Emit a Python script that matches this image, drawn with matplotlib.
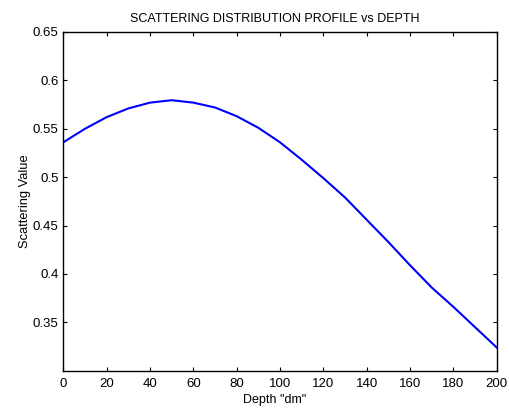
import matplotlib
matplotlib.use("Agg")
import matplotlib.pyplot as plt

depth = [0, 10, 20, 30, 40, 50, 60, 70, 80, 90, 100, 110, 120, 130, 140, 150, 160, 170, 180, 190, 200]
scattering = [0.536, 0.550, 0.562, 0.571, 0.577, 0.5795, 0.577, 0.572, 0.563, 0.551, 0.536,
              0.518, 0.499, 0.479, 0.456, 0.433, 0.409, 0.386, 0.366, 0.345, 0.324]
xticks = [0, 20, 40, 60, 80, 100, 120, 140, 160, 180, 200]
yticks = [0.35, 0.4, 0.45, 0.5, 0.55, 0.6, 0.65]
ytick_labels = ["0.35", "0.4", "0.45", "0.5", "0.55", "0.6", "0.65"]

plt.rcParams['font.family'] = ['Liberation Sans', 'DejaVu Sans']
fig = plt.figure(figsize=(5.09, 4.08), dpi=100)
ax = fig.add_axes([0.1244, 0.0914, 0.8514, 0.8302])
ax.plot(depth, scattering, color='#0000ff', linewidth=1.5)
ax.set_xlim(0, 200)
ax.set_ylim(0.3, 0.65)
ax.set_xticks(xticks)
ax.set_xticklabels([str(t) for t in xticks])
ax.set_yticks(yticks)
ax.set_yticklabels(ytick_labels)
ax.tick_params(direction='in', length=3, width=0.8, top=True, right=True, labelsize=9.5)
ax.tick_params(axis='y', pad=3.5)
ax.tick_params(axis='x', pad=5)
for s in ax.spines.values():
    s.set_linewidth(1.0)
ax.set_title("SCATTERING DISTRIBUTION PROFILE vs DEPTH", fontsize=9, pad=7.5, x=0.487)
ax.set_xlabel('Depth "dm"', fontsize=9)
ax.xaxis.set_label_coords(0.487, -0.068)
ax.set_ylabel("Scattering Value", fontsize=9.3)
ax.yaxis.set_label_coords(-0.075, 0.5)
fig.savefig("out.png", dpi=100)
